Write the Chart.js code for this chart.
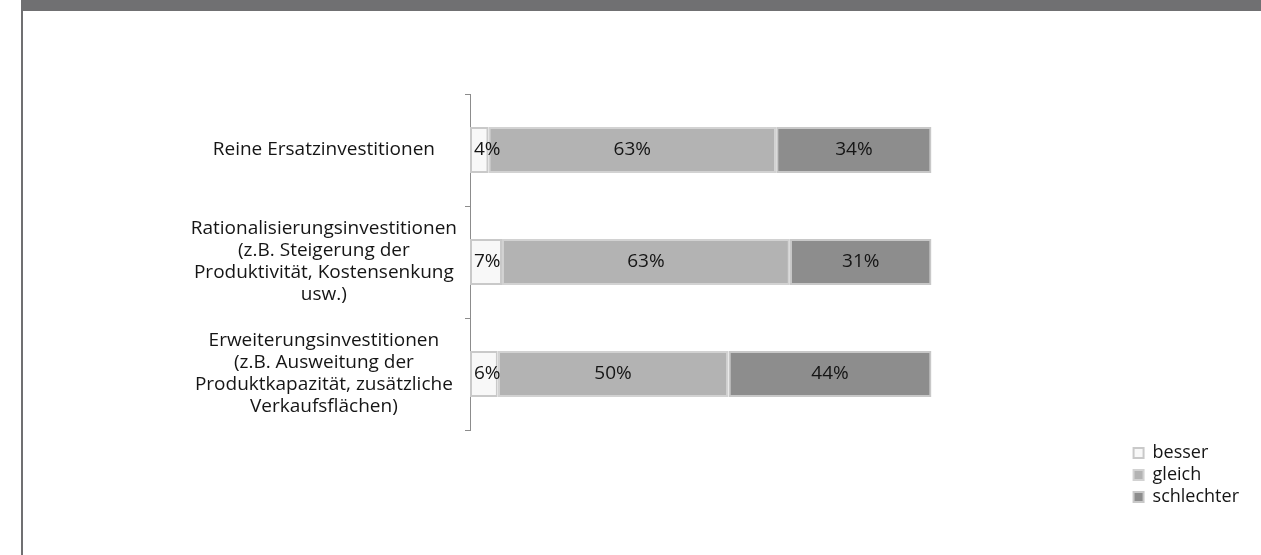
<!DOCTYPE html>
<html>
<head>
<meta charset="utf-8">
<script src="https://cdn.jsdelivr.net/npm/chart.js@4"></script>
<style>
  html, body { margin: 0; padding: 0; background: #fff; }
  .frame {
    position: absolute; left: 21px; top: 0; right: 0; bottom: 0;
    border-top: 11px solid #707072; border-left: 2px solid #707072;
  }
  #chartInvest { position: absolute; left: 23px; top: 11px; }
</style>
</head>
<body>
<div class="frame"></div>
<canvas id="chartInvest" width="1238" height="544"></canvas>
<script>
// Kategorien (mehrzeilig) und Anteile je Antwort in Prozent
const kategorien = [
  ["Reine Ersatzinvestitionen"],
  ["Rationalisierungsinvestitionen", "(z.B. Steigerung der", "Produktivität, Kostensenkung", "usw.)"],
  ["Erweiterungsinvestitionen", "(z.B. Ausweitung der", "Produktkapazität, zusätzliche", "Verkaufsflächen)"]
];
const besser = [4, 7, 6];
const gleich = [63, 63, 50];
const schlechter = [34, 31, 44];

const reihen = [besser, gleich, schlechter];
const summen = kategorien.map((_, i) => reihen.reduce((s, r) => s + r[i], 0));
// 100%-Stapel: jeder Balken auf seine Summe bezogen
const anteil = r => r.map((v, i) => v / summen[i] * 100);

const schrift = "'Open Sans', 'Noto Sans', sans-serif";

// Prozentwerte mittig in die Segmente schreiben
const segmentLabels = {
  id: "segmentLabels",
  afterDatasetsDraw(chart) {
    const ctx = chart.ctx;
    ctx.save();
    ctx.font = "19px " + schrift;
    ctx.fillStyle = "#151515";
    ctx.textBaseline = "middle";
    ctx.textAlign = "left";
    chart.data.datasets.forEach((ds, i) => {
      chart.getDatasetMeta(i).data.forEach((bar, j) => {
        const text = reihen[i][j] + "%";
        const w = ctx.measureText(text).width;
        const l = Math.min(bar.base, bar.x), r = Math.max(bar.base, bar.x);
        let x = (l + r) / 2 - w / 2;
        if (x < l + 4) x = l + 4;
        ctx.fillText(text, x, bar.y);
      });
    });
    ctx.restore();
  }
};

const ctx = document.getElementById("chartInvest");
new Chart(ctx, {
  type: "bar",
  data: {
    labels: kategorien,
    datasets: [{
      label: "besser",
      data: anteil(besser),
      backgroundColor: "#f8f8f8",
      borderColor: "#c9c9c9"
    }, {
      label: "gleich",
      data: anteil(gleich),
      backgroundColor: "#b3b3b3",
      borderColor: "#d2d2d2"
    }, {
      label: "schlechter",
      data: anteil(schlechter),
      backgroundColor: "#8d8d8d",
      borderColor: "#c8c8c8"
    }]
  },
  options: {
    indexAxis: "y",
    responsive: false,
    animation: false,
    datasets: {
      bar: { borderWidth: 2, borderSkipped: false, categoryPercentage: 1, barPercentage: 0.41 }
    },
    layout: { padding: { top: 83, bottom: 45, right: 12, left: 0 } },
    scales: {
      x: {
        stacked: true, min: 0, max: 100,
        grid: { display: false }, border: { display: false },
        ticks: { display: false },
        afterFit(s) { s.height = 80; }
      },
      y: {
        stacked: true,
        grid: { drawOnChartArea: false, tickLength: 5, color: "#8c8c8c" },
        border: { color: "#8c8c8c" },
        ticks: {
          color: "#151515", padding: 8, crossAlign: "center",
          font: { family: schrift, size: 19, lineHeight: 1.16 }
        },
        afterFit(s) { s.width = 447; }
      },
      yGap: {
        axis: "y", position: "right", type: "linear",
        grid: { display: false }, border: { display: false },
        ticks: { display: false },
        afterFit(s) { s.width = 198; }
      }
    },
    plugins: {
      legend: {
        position: "right", align: "end",
        labels: {
          boxWidth: 10, boxHeight: 10, padding: 4, color: "#151515",
          font: { family: schrift, size: 18 }
        }
      },
      tooltip: { enabled: false }
    }
  },
  plugins: [segmentLabels]
});
</script>
</body>
</html>
